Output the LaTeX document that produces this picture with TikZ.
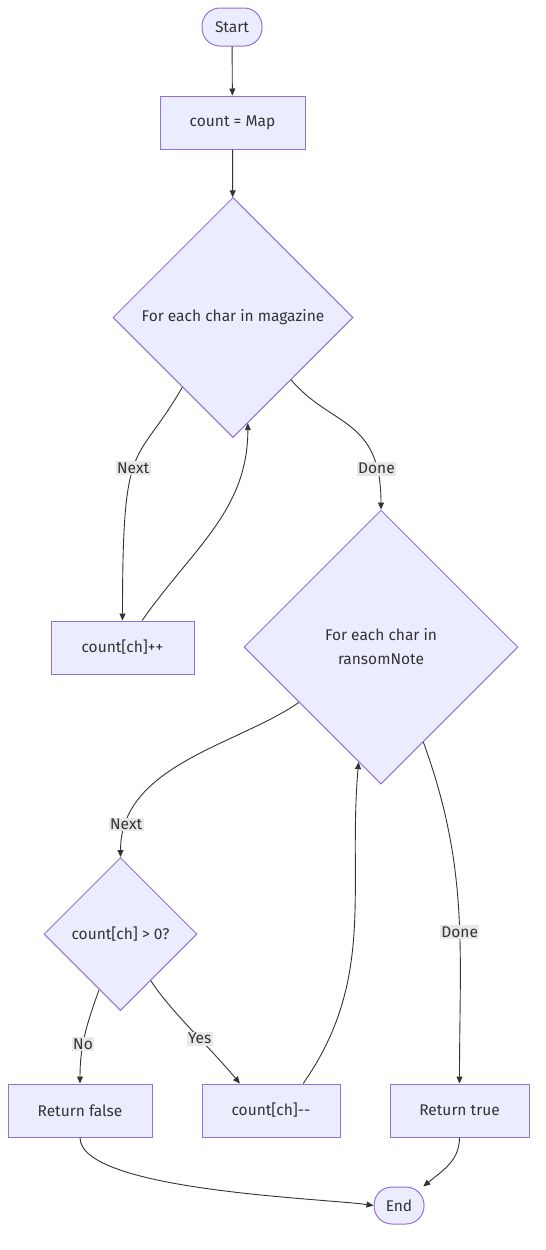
\documentclass[tikz,border=0pt]{standalone}
\usepackage{fontspec}
\setmainfont{Fira Sans}
\usetikzlibrary{shapes.geometric,arrows.meta}
\definecolor{boxfill}{HTML}{ECECFF}
\definecolor{boxline}{HTML}{9370DB}
\definecolor{ink}{HTML}{333333}
\definecolor{labelbg}{HTML}{E8E8E8}
\tikzset{
  box/.style={draw=boxline, fill=boxfill, text=ink, line width=1pt, minimum height=53pt, inner sep=0pt},
  term/.style={box, rounded corners=18pt},
  decide/.style={draw=boxline, fill=boxfill, text=ink, line width=1pt, diamond, aspect=1, inner sep=0pt},
  flow/.style={draw=ink, line width=0.9pt, -{Triangle[length=7pt,width=6pt]}},
  tag/.style={fill=labelbg, text=ink, inner sep=1.5pt}
}
\begin{document}
\begin{tikzpicture}[x=1pt, y=-1pt, font=\fontsize{15.5}{18}\selectfont]
    \useasboundingbox (0,0) rectangle (546,1250);
    \node[term, minimum width=60pt, minimum height=38pt] (start) at (232,27) {Start};
    \node[box, minimum width=145pt] (init) at (232.5,122.5) {count = Map};
    \node[decide, minimum width=240pt, minimum height=240pt] (scan) at (233,317.5) {For each char in magazine};
    \node[box, minimum width=143pt] (inc) at (122.5,647.5) {count[ch]++};
    \node[decide, minimum width=274pt, minimum height=274pt, align=center,
          font=\fontsize{15.5}{24}\selectfont] (check) at (381,647) {For each char in\\ransomNote};
    \node[decide, minimum width=153pt, minimum height=153pt] (test) at (120.5,934) {count[ch] > 0?};
    \node[box, minimum width=144pt] (rfalse) at (80,1110.5) {Return false};
    \node[box, minimum width=138pt] (dec) at (271,1110.5) {count[ch]{-}{-}};
    \node[box, minimum width=139pt] (rtrue) at (459.5,1110.5) {Return true};
    \node[term, minimum width=50pt, minimum height=37pt] (finish) at (399,1205.5) {End};
    \draw[flow] (start) -- (init);
    \draw[flow] (init) -- (scan);
    \draw[flow] (scan.234) to[out=240, in=90, in looseness=2] node[tag, pos=0.53] {Next} (inc.north);
    \draw[flow] (inc.54) to[out=55, in=-90] (scan.-82);
    \draw[flow] (scan.-47) to[out=-50, in=90, in looseness=1.5] node[tag, pos=0.82] {Done} (check.north);
    \draw[flow] (check.214) to[out=215, in=90, out looseness=0.8] node[tag, pos=0.87] {Next} (test.north);
    \draw[flow] (check.-66) to[out=-70, in=90] node[tag, pos=0.57] {Done} (rtrue.north);
    \draw[flow] (test.-111) to[out=-110, in=90] node[tag, pos=0.6] {No} (rfalse.north);
    \draw[flow] (test.-57) to[out=-57, in=130, out looseness=0.7] node[tag, pos=0.6] {Yes} (dec.139);
    \draw[flow] (dec.40) to[out=55, in=-95] (check.-101);
    \draw[flow] (rfalse.south) to[out=-90, in=172, looseness=0.45] (finish.west);
    \draw[flow] (rtrue.south) to[out=-90, in=40] (finish.38);
\end{tikzpicture}
\end{document}
